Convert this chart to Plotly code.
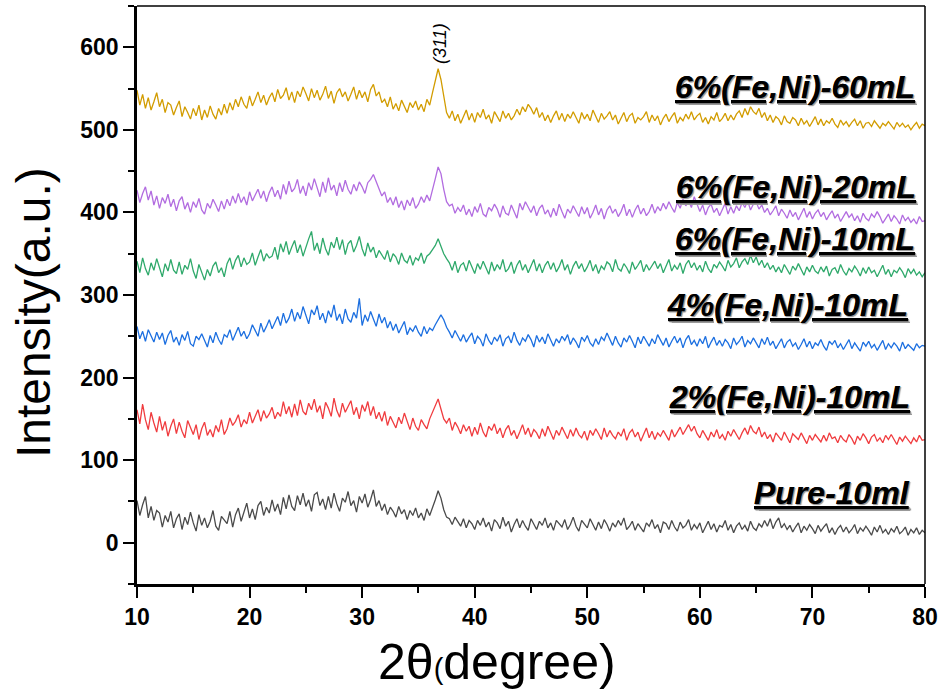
import plotly.graph_objects as go

# 2-theta sampling grid (0.25 degree steps from 10 to 80)
two_theta = [10 + 0.25 * i for i in range(281)]

pure_10ml = [
51, 33, 46, 56, 30, 44, 27, 39, 36, 19, 33, 25, 38, 18, 29, 35,
16, 31, 22, 37, 24, 14, 34, 21, 30, 18, 26, 39, 20, 15, 32, 27,
23, 38, 19, 34, 42, 26, 36, 48, 30, 41, 28, 45, 50, 33, 43, 36,
52, 38, 47, 34, 55, 41, 58, 44, 39, 57, 46, 60, 44, 52, 38, 58,
61, 45, 53, 40, 56, 42, 60, 47, 38, 54, 49, 62, 45, 51, 37, 56,
48, 59, 43, 52, 64, 44, 51, 39, 47, 34, 43, 38, 31, 44, 35, 40,
28, 39, 33, 42, 30, 36, 27, 41, 33, 42, 52, 63, 54, 40, 31, 29,
22, 31, 25, 20, 29, 18, 27, 23, 16, 27, 21, 30, 19, 25, 14, 28,
24, 17, 31, 20, 26, 13, 22, 29, 18, 27, 20, 15, 29, 22, 16, 26,
21, 30, 18, 24, 15, 27, 23, 19, 28, 16, 22, 31, 20, 14, 27, 22,
18, 29, 21, 15, 25, 17, 28, 22, 14, 24, 19, 27, 21, 30, 16, 20,
26, 15, 23, 18, 13, 24, 20, 28, 17, 22, 12, 25, 23, 16, 27, 19,
14, 25, 18, 21, 28, 15, 22, 17, 24, 12, 20, 26, 16, 23, 13, 21,
19, 27, 15, 22, 12, 20, 24, 16, 21, 14, 26, 18, 15, 23, 19, 27,
20, 29, 17, 25, 30, 18, 23, 16, 21, 13, 19, 24, 12, 20, 15, 22,
17, 11, 21, 14, 19, 23, 12, 18, 10, 17, 21, 13, 19, 12, 16, 22,
11, 18, 14, 20, 15, 9, 19, 13, 21, 12, 16, 10, 17, 13, 20, 11,
14, 19, 9, 16, 12, 18, 10, 15, 12]

fe_ni_2_10ml = [
161, 144, 168, 149, 137, 158, 145, 134, 153, 136, 147, 129, 141, 150, 132, 146,
135, 127, 148, 139, 131, 143, 125, 138, 146, 130, 137, 128, 142, 134, 149, 131,
138, 151, 142, 147, 155, 140, 149, 144, 158, 145, 152, 161, 147, 160, 151, 156,
164, 150, 158, 153, 171, 156, 165, 152, 168, 154, 173, 159, 155, 169, 161, 174,
158, 166, 150, 170, 163, 153, 175, 160, 152, 169, 158, 166, 172, 155, 164, 150,
167, 159, 171, 154, 165, 150, 158, 147, 159, 142, 153, 146, 139, 152, 144, 157,
146, 137, 151, 141, 136, 149, 143, 138, 150, 158, 166, 174, 162, 150, 145, 151,
136, 146, 140, 132, 143, 135, 141, 129, 140, 131, 145, 134, 128, 141, 136, 144,
132, 139, 127, 137, 142, 130, 136, 126, 134, 143, 131, 139, 128, 137, 133, 126,
138, 129, 141, 132, 125, 136, 130, 140, 133, 126, 137, 129, 139, 131, 127, 135,
124, 136, 130, 138, 132, 125, 139, 128, 136, 130, 126, 134, 129, 138, 124, 133,
137, 128, 134, 123, 131, 139, 127, 135, 125, 133, 129, 136, 130, 124, 137, 128,
134, 140, 131, 138, 143, 135, 141, 132, 127, 136, 129, 124, 134, 128, 137, 126,
131, 124, 135, 129, 137, 130, 125, 133, 139, 131, 142, 135, 132, 140, 128, 134,
126, 131, 122, 133, 129, 124, 134, 127, 121, 132, 128, 125, 133, 126, 120, 130,
124, 131, 127, 122, 130, 123, 133, 126, 128, 121, 130, 125, 122, 131, 126, 119,
129, 124, 132, 127, 120, 128, 131, 123, 127, 121, 130, 125, 131, 124, 119, 128,
123, 129, 125, 120, 127, 122, 130, 124, 125]

fe_ni_4_10ml = [
262, 247, 256, 244, 258, 250, 243, 255, 246, 254, 240, 251, 257, 243, 249, 239,
252, 245, 256, 241, 238, 250, 246, 253, 244, 237, 251, 242, 255, 246, 240, 252,
249, 258, 245, 254, 261, 250, 256, 247, 253, 264, 257, 250, 266, 255, 262, 270,
259, 267, 274, 263, 278, 266, 272, 283, 268, 279, 271, 286, 274, 265, 282, 276,
287, 270, 278, 266, 281, 273, 288, 269, 277, 265, 283, 271, 267, 279, 272, 296,
263, 276, 268, 280, 271, 262, 277, 266, 273, 260, 268, 257, 265, 254, 261, 268,
252, 260, 256, 263, 255, 250, 262, 253, 260, 257, 264, 270, 276, 270, 261, 255,
248, 257, 250, 244, 252, 243, 249, 254, 241, 250, 246, 238, 253, 245, 240, 249,
244, 252, 238, 247, 250, 242, 255, 245, 239, 248, 244, 252, 246, 237, 251, 243,
249, 241, 253, 245, 238, 247, 242, 250, 245, 252, 240, 248, 243, 236, 249, 244,
251, 242, 238, 247, 240, 249, 245, 254, 246, 239, 250, 242, 237, 248, 243, 251,
244, 236, 249, 241, 250, 243, 238, 247, 241, 252, 245, 239, 248, 237, 244, 250,
242, 248, 236, 246, 251, 240, 245, 238, 247, 241, 250, 236, 243, 249, 239, 245,
238, 246, 242, 235, 248, 240, 244, 250, 237, 245, 241, 248, 242, 236, 247, 240,
249, 239, 244, 235, 241, 247, 236, 243, 246, 238, 242, 234, 240, 247, 237, 244,
235, 242, 239, 246, 238, 233, 244, 240, 245, 236, 241, 234, 240, 246, 235, 242,
237, 232, 243, 238, 244, 236, 240, 233, 239, 245, 234, 241, 236, 242, 238, 232,
243, 235, 240, 237, 233, 241, 236, 239, 238]

fe_ni_6_10ml = [
341, 327, 345, 332, 324, 339, 330, 344, 333, 322, 338, 329, 343, 330, 326, 340,
325, 336, 331, 344, 329, 320, 337, 326, 318, 331, 323, 335, 340, 327, 333, 322,
338, 345, 331, 342, 348, 334, 345, 337, 340, 351, 336, 346, 355, 341, 350, 345,
347, 358, 343, 362, 352, 365, 349, 358, 366, 351, 361, 347, 359, 368, 377, 354,
363, 350, 369, 356, 348, 364, 357, 370, 355, 367, 349, 362, 366, 352, 360, 371,
356, 347, 363, 352, 358, 345, 354, 349, 343, 354, 340, 350, 346, 337, 351, 342,
339, 348, 336, 345, 342, 351, 338, 347, 350, 355, 360, 368, 358, 350, 344, 339,
330, 341, 327, 336, 339, 329, 342, 333, 326, 338, 331, 341, 334, 325, 340, 329,
337, 331, 343, 328, 332, 340, 326, 336, 342, 330, 337, 327, 335, 343, 329, 338,
327, 336, 341, 331, 339, 328, 334, 343, 330, 337, 325, 335, 341, 332, 338, 328,
334, 342, 329, 337, 326, 335, 331, 340, 337, 328, 343, 332, 329, 338, 333, 326,
340, 331, 336, 342, 328, 337, 330, 335, 341, 332, 338, 327, 334, 343, 329, 336,
331, 339, 326, 337, 342, 333, 339, 330, 336, 328, 341, 332, 327, 337, 333, 340,
335, 329, 342, 334, 338, 345, 333, 340, 344, 337, 348, 339, 346, 336, 342, 333,
339, 331, 336, 328, 334, 327, 337, 331, 325, 335, 330, 338, 331, 324, 334, 328,
336, 329, 326, 334, 328, 335, 323, 331, 333, 326, 337, 329, 324, 332, 328, 335,
330, 323, 333, 326, 334, 327, 330, 322, 329, 336, 325, 331, 322, 330, 327, 333,
328, 321, 332, 326, 331, 324, 328, 322, 327]

fe_ni_6_20ml = [
427, 412, 423, 431, 415, 426, 409, 420, 405, 418, 411, 422, 407, 416, 402, 414,
419, 404, 412, 400, 413, 406, 417, 403, 398, 411, 405, 416, 409, 401, 414, 404,
416, 408, 420, 411, 423, 412, 419, 409, 425, 414, 421, 428, 417, 426, 413, 424,
431, 419, 427, 416, 434, 422, 438, 425, 429, 440, 423, 432, 420, 436, 427, 441,
430, 419, 437, 424, 442, 427, 433, 420, 436, 425, 439, 428, 422, 434, 426, 437,
431, 423, 436, 440, 446, 438, 428, 420, 425, 412, 418, 409, 419, 406, 414, 403,
415, 408, 418, 405, 410, 419, 412, 421, 414, 426, 441, 455, 447, 428, 413, 408,
410, 399, 406, 401, 409, 397, 404, 395, 407, 400, 411, 398, 395, 406, 402, 410,
404, 394, 408, 399, 397, 409, 401, 393, 411, 403, 413, 406, 400, 408, 396, 405,
409, 398, 403, 394, 405, 396, 410, 401, 393, 404, 399, 408, 402, 395, 407, 398,
406, 393, 400, 409, 397, 405, 392, 403, 408, 399, 404, 395, 401, 410, 396, 404,
394, 403, 409, 398, 405, 396, 401, 410, 399, 407, 402, 411, 404, 413, 406, 400,
412, 405, 416, 408, 414, 406, 419, 410, 401, 409, 397, 406, 410, 400, 405, 396,
403, 411, 398, 407, 399, 408, 402, 412, 406, 414, 403, 410, 413, 404, 409, 400,
405, 397, 402, 408, 396, 404, 399, 393, 403, 395, 400, 391, 398, 405, 394, 401,
392, 399, 403, 395, 400, 391, 397, 402, 393, 398, 389, 396, 401, 394, 398, 390,
396, 388, 399, 393, 390, 398, 394, 401, 395, 387, 393, 398, 389, 396, 392, 386,
397, 390, 394, 388, 392, 386, 395, 389, 390]

fe_ni_6_60ml = [
548, 530, 543, 526, 539, 524, 534, 545, 528, 537, 521, 533, 530, 518, 527, 535,
516, 528, 521, 513, 526, 517, 530, 512, 524, 515, 529, 519, 513, 526, 518, 531,
520, 533, 524, 537, 528, 540, 531, 526, 541, 529, 537, 546, 533, 542, 530, 539,
545, 534, 549, 538, 542, 551, 536, 546, 533, 547, 540, 552, 544, 535, 550, 539,
548, 536, 543, 553, 538, 547, 532, 545, 550, 540, 546, 535, 543, 552, 537, 548,
539, 546, 534, 549, 555, 541, 546, 533, 537, 528, 540, 525, 532, 523, 536, 529,
521, 533, 527, 535, 524, 531, 522, 537, 530, 545, 560, 574, 561, 538, 521, 514,
523, 511, 519, 508, 516, 524, 512, 520, 509, 521, 515, 525, 513, 518, 508, 522,
516, 510, 523, 514, 520, 512, 517, 525, 518, 528, 522, 531, 526, 519, 527, 515,
521, 511, 518, 509, 517, 523, 512, 520, 510, 519, 514, 522, 515, 508, 521, 513,
519, 511, 524, 516, 509, 520, 513, 517, 522, 512, 518, 507, 514, 521, 510, 517,
520, 508, 515, 512, 516, 522, 509, 518, 511, 517, 506, 514, 519, 510, 516, 521,
508, 515, 511, 519, 513, 522, 512, 517, 520, 509, 515, 507, 516, 512, 521, 510,
514, 520, 511, 518, 512, 519, 523, 515, 526, 518, 528, 522, 519, 526, 515, 521,
511, 518, 509, 516, 513, 506, 517, 510, 508, 515, 512, 505, 514, 507, 511, 504,
510, 516, 506, 513, 505, 511, 508, 514, 507, 503, 512, 506, 510, 504, 509, 513,
505, 511, 502, 508, 509, 504, 511, 506, 502, 508, 505, 510, 506, 501, 509, 504,
508, 503, 506, 500, 505, 509, 502, 507, 505]

series_names = ["Pure-10ml", "2%(Fe,Ni)-10mL", "4%(Fe,Ni)-10mL",
                "6%(Fe,Ni)-10mL", "6%(Fe,Ni)-20mL", "6%(Fe,Ni)-60mL"]
series_values = [pure_10ml, fe_ni_2_10ml, fe_ni_4_10ml,
                 fe_ni_6_10ml, fe_ni_6_20ml, fe_ni_6_60ml]
series_colors = ["#4a4a4a", "#f03c3f", "#1c6fe0", "#2fa96b", "#b26ce0", "#d29c00"]

y_ticks = [0, 100, 200, 300, 400, 500, 600]
x_ticks = [10, 20, 30, 40, 50, 60, 70, 80]

fig = go.Figure()
for name, vals, col in zip(series_names, series_values, series_colors):
    fig.add_trace(go.Scatter(x=two_theta, y=vals, mode="lines", name=name,
                             line=dict(color=col, width=1.3), showlegend=False))

W, H = 943, 695
ml, mr, mt, mb = 137, 18, 6, 111
pw, ph = W - ml - mr, H - mt - mb

def px_to_paper_x(px):
    return (px - ml) / pw

def px_to_paper_y(py):
    return (H - mb - py) / ph

tickfont = dict(family="Arial, Liberation Sans, sans-serif", size=23, color="black", weight="bold")

fig.update_layout(
    width=W, height=H,
    margin=dict(l=ml, r=mr, t=mt, b=mb, autoexpand=False),
    paper_bgcolor="white", plot_bgcolor="white",
    xaxis=dict(range=[10, 80], tickvals=x_ticks, showgrid=False, zeroline=False,
               showline=True, linecolor="black", linewidth=2.5,
               ticks="outside", ticklen=11, tickwidth=2, tickcolor="black",
               tickfont=tickfont, automargin=False,
               minor=dict(ticks="outside", ticklen=6, tickwidth=2, dtick=5, tick0=10, tickcolor="black", showgrid=False)),
    yaxis=dict(range=[-50, 650], tickvals=y_ticks, showgrid=False, zeroline=False,
               showline=True, linecolor="black", linewidth=2.5,
               ticks="outside", ticklen=11, tickwidth=2, tickcolor="black",
               tickfont=tickfont, automargin=False,
               minor=dict(ticks="outside", ticklen=6, tickwidth=2, dtick=50, tick0=0, tickcolor="black", showgrid=False)),
)

# thin top and right frame lines
fig.add_shape(type="line", xref="paper", yref="paper", x0=0, x1=1, y0=1, y1=1,
              line=dict(color="black", width=1.5))
fig.add_shape(type="line", xref="paper", yref="paper", x0=1, x1=1, y0=0, y1=1,
              line=dict(color="black", width=1.5))

# axis titles
fig.add_annotation(text="Intensity(a.u.)", xref="paper", yref="paper",
                   x=px_to_paper_x(33), y=px_to_paper_y(313), textangle=-90,
                   showarrow=False, xanchor="center", yanchor="middle",
                   font=dict(family="Arial, Liberation Sans, sans-serif", size=48, color="black"))
fig.add_annotation(text="2θ<span style='font-size:29px'>(</span>degree)", xref="paper", yref="paper",
                   x=px_to_paper_x(497), y=px_to_paper_y(662),
                   showarrow=False, xanchor="center", yanchor="middle",
                   font=dict(family="Arial, Liberation Sans, sans-serif", size=50, color="black"))

# peak label
fig.add_annotation(text="(311)", x=36.9, y=605, xref="x", yref="y", textangle=-90,
                   showarrow=False, xanchor="center", yanchor="middle",
                   font=dict(family="Arial, Liberation Sans, sans-serif", size=18, color="black", style="italic"))

# series labels
label_pos = [  # (name, right px, center y px)
    ("Pure-10ml", 912, 493),
    ("2%(Fe,Ni)-10mL", 912, 397),
    ("4%(Fe,Ni)-10mL", 910, 305),
    ("6%(Fe,Ni)-10mL", 917, 239),
    ("6%(Fe,Ni)-20mL", 918, 187),
    ("6%(Fe,Ni)-60mL", 917, 87),
]
for txt, rx, cy in label_pos:
    fig.add_annotation(text=txt, xref="paper", yref="paper",
                       x=px_to_paper_x(rx), y=px_to_paper_y(cy),
                       showarrow=False, xanchor="right", yanchor="middle",
                       font=dict(family="Arial, Liberation Sans, sans-serif", size=32, color="black",
                                 weight="bold", style="italic", lineposition="under",
                                 shadow="1px 1px 1px #9a9a9a"))

fig.write_html("out.html", config={"displayModeBar": False},
               post_script="document.body.style.margin='0px';")
